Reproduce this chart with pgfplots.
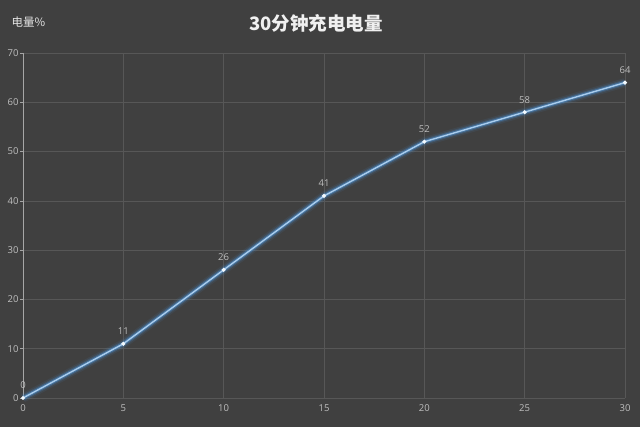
\documentclass[border=0pt]{standalone}
\usepackage{pgfplots}
\pgfplotsset{compat=1.18}
\usepackage{fontspec}
\setmainfont{Open Sans}
\newfontfamily\cjk{Noto Sans CJK SC}
\definecolor{bg}{HTML}{404040}
\definecolor{gridc}{HTML}{575757}
\definecolor{tickc}{HTML}{BFBFBF}
\definecolor{glow}{HTML}{4A8AC8}
\definecolor{core}{HTML}{A9CDEE}

\begin{document}
\begin{tikzpicture}[x=1pt,y=1pt]
\fill[bg] (0,0) rectangle (640,427);
\useasboundingbox (0,0) rectangle (640,427);
\node[text=white!94!black,font=\cjk\bfseries\fontsize{18.5}{22}\selectfont] at (316,404) {30分钟充电电量};
\node[text=white!90!black,font=\cjk\fontsize{11.5}{13}\selectfont,anchor=west] at (8,405) {电量\%};
\begin{axis}[
    at={(23pt,29pt)}, anchor=origin,
    scale only axis,
    width=602pt, height=345pt,
    xmin=0, xmax=30, ymin=0, ymax=70,
    xtick={0,5,...,30}, ytick={0,10,...,70},
    grid=major,
    major grid style={gridc, line width=0.6pt},
    axis line style={draw=none},
    tick style={draw=none},
    ticklabel style={text=tickc, font=\fontsize{9.5}{11}\selectfont},
    /pgf/number format/assume math mode=true,
    xticklabel style={yshift=-3pt},
    yticklabel style={xshift=-1pt},
    clip=false,
]
% vertical axis line with small ticks
\draw[gray!70, line width=0.6pt] (axis cs:0,0) -- (axis cs:0,70);
\pgfplotsinvokeforeach{0,10,...,70}{\draw[gray!70, line width=0.6pt] (axis cs:0,#1) -- ++(-3pt,0);}
% glow layers
\addplot[glow, line width=9pt, opacity=0.10, mark=none] coordinates {(0,0) (5,11) (10,26) (15,41) (20,52) (25,58) (30,64)};
\addplot[glow, line width=6pt, opacity=0.22, mark=none] coordinates {(0,0) (5,11) (10,26) (15,41) (20,52) (25,58) (30,64)};
\addplot[glow, line width=3.6pt, opacity=0.55, mark=none] coordinates {(0,0) (5,11) (10,26) (15,41) (20,52) (25,58) (30,64)};
\addplot[core, line width=1.4pt, mark=*, mark size=1.2pt, mark options={fill=white!85!core, draw=white!85!core},
    nodes near coords,
    nodes near coords style={text=tickc, font=\fontsize{9.5}{11}\selectfont, yshift=5pt}]
    coordinates {(0,0) (5,11) (10,26) (15,41) (20,52) (25,58) (30,64)};
\end{axis}
\end{tikzpicture}
\end{document}
